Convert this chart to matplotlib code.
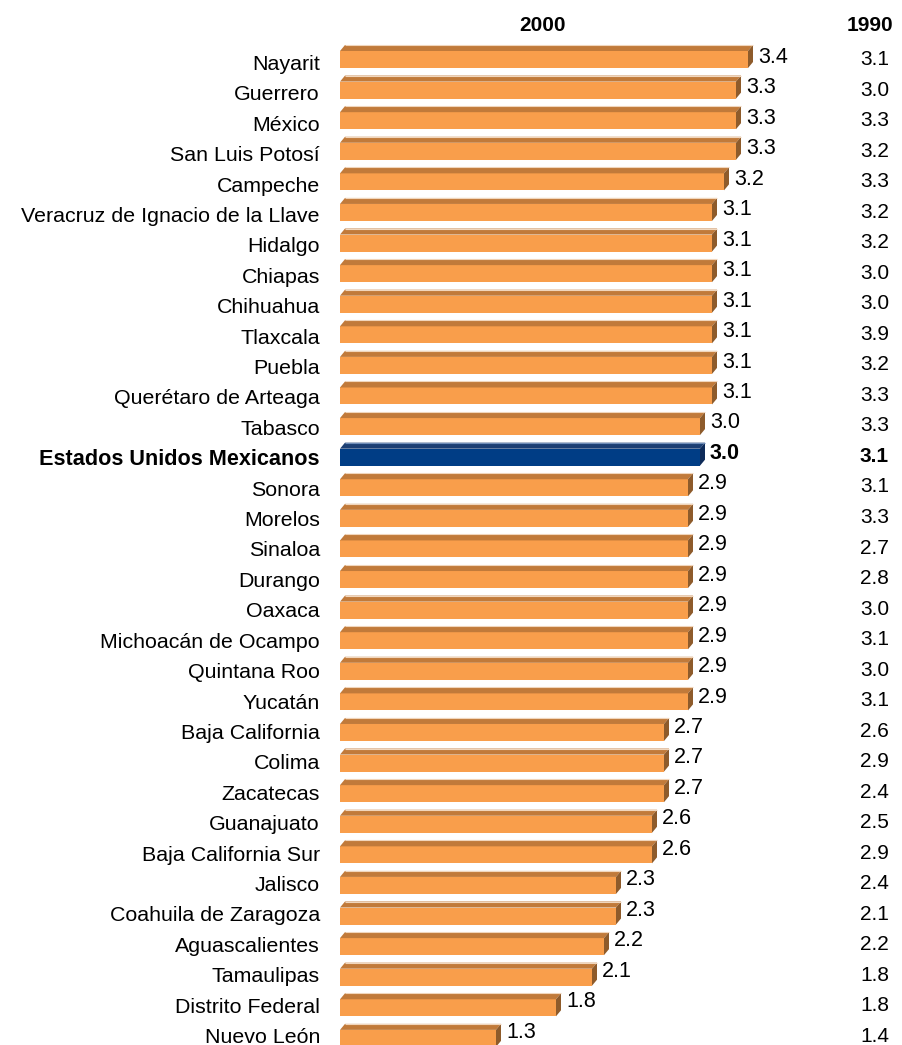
import matplotlib
matplotlib.use("Agg")
import matplotlib.pyplot as plt
from matplotlib.patches import Polygon

plt.rcParams['font.family'] = ['Liberation Sans', 'DejaVu Sans']

# Average household size by state, 2000 and 1990
states = ["Nayarit", "Guerrero", "México", "San Luis Potosí", "Campeche",
          "Veracruz de Ignacio de la Llave", "Hidalgo", "Chiapas", "Chihuahua",
          "Tlaxcala", "Puebla", "Querétaro de Arteaga", "Tabasco",
          "Estados Unidos Mexicanos", "Sonora", "Morelos", "Sinaloa", "Durango",
          "Oaxaca", "Michoacán de Ocampo", "Quintana Roo", "Yucatán",
          "Baja California", "Colima", "Zacatecas", "Guanajuato",
          "Baja California Sur", "Jalisco", "Coahuila de Zaragoza",
          "Aguascalientes", "Tamaulipas", "Distrito Federal", "Nuevo León"]
v2000 = [3.4, 3.3, 3.3, 3.3, 3.2, 3.1, 3.1, 3.1, 3.1, 3.1, 3.1, 3.1, 3.0,
         3.0, 2.9, 2.9, 2.9, 2.9, 2.9, 2.9, 2.9, 2.9, 2.7, 2.7, 2.7, 2.6,
         2.6, 2.3, 2.3, 2.2, 2.1, 1.8, 1.3]
v1990 = [3.1, 3.0, 3.3, 3.2, 3.3, 3.2, 3.2, 3.0, 3.0, 3.9, 3.2, 3.3, 3.3,
         3.1, 3.1, 3.3, 2.7, 2.8, 3.0, 3.1, 3.0, 3.1, 2.6, 2.9, 2.4, 2.5,
         2.9, 2.4, 2.1, 2.2, 1.8, 1.8, 1.4]
national = "Estados Unidos Mexicanos"
col_2000 = "2000"
col_1990 = "1990"

W, H = 903, 1045
fig = plt.figure(figsize=(W / 100, H / 100), dpi=100)

px_per_unit = 120.0      # horizontal scale
pitch = 30.59            # row spacing in pixels
first_px = 59.5          # centre of the first bar's front face
x0_px = 340              # position of zero
n = len(states)

ax = fig.add_axes([x0_px / W, 0, (W - x0_px) / W, 1])
ax.set_xlim(0, (W - x0_px) / px_per_unit)
ax.set_ylim((H - first_px) / pitch, -first_px / pitch)
ax.axis('off')


def row_of(px):
    """Vertical pixel position (from the top) -> row coordinate."""
    return (px - first_px) / pitch


def xval(px):
    """Horizontal pixel position -> value coordinate."""
    return (px - x0_px) / px_per_unit


bar_h = 17 / pitch
dx = 5 / px_per_unit
dy = 6 / pitch

orange = dict(front="#F99E4B", top="#C17A3A", side="#8E5B2B", rim="#F1D6BC")
blue = dict(front="#003D85", top="#1C3F73", side="#0E2B59", rim="#6F8DB8")

# baselines of the text columns, first and last row
name_base = (70.0, 1043.0)
val_base = (63.0, 1037.5)
old_base = (65.0, 1042.0)


def lerp(pair, i):
    return pair[0] + (pair[1] - pair[0]) * i / (n - 1)


for i, (name, v) in enumerate(zip(states, v2000)):
    is_nat = name == national
    c = blue if is_nat else orange
    ax.barh(i, v, height=bar_h, left=0, color=c["front"], edgecolor="none", zorder=2)
    yt = i - bar_h / 2
    yb = i + bar_h / 2
    ax.add_patch(Polygon([(0, yt), (v, yt), (v + dx, yt - dy), (dx, yt - dy)],
                         closed=True, facecolor=c["top"], edgecolor="none", zorder=2))
    ax.plot([dx, v + dx], [yt - dy, yt - dy], color=c["rim"],
            lw=0.8, zorder=3, solid_capstyle="butt")
    ax.add_patch(Polygon([(v, yt), (v + dx, yt - dy), (v + dx, yb - dy), (v, yb)],
                         closed=True, facecolor=c["side"], edgecolor="none", zorder=2))
    weight = "bold" if is_nat else "normal"
    ax.text(xval(320), row_of(lerp(name_base, i)), name, ha="right", va="baseline",
            fontsize=15.4 if not is_nat else 15.6, fontweight=weight, color="black",
            clip_on=False)
    ax.text(v + dx + 5 / px_per_unit, row_of(lerp(val_base, i)), f"{v:.1f}",
            ha="left", va="baseline", fontsize=15.5, fontweight=weight, color="black")
    ax.text(xval(889), row_of(lerp(old_base, i)), f"{v1990[i]:.1f}", ha="right",
            va="baseline", fontsize=15, fontweight=weight, color="black")

ax.text(xval(543), row_of(31), col_2000, ha="center", va="baseline",
        fontsize=15, fontweight="bold")
ax.text(xval(870), row_of(31), col_1990, ha="center", va="baseline",
        fontsize=15, fontweight="bold")

fig.savefig("out.png", dpi=100)
